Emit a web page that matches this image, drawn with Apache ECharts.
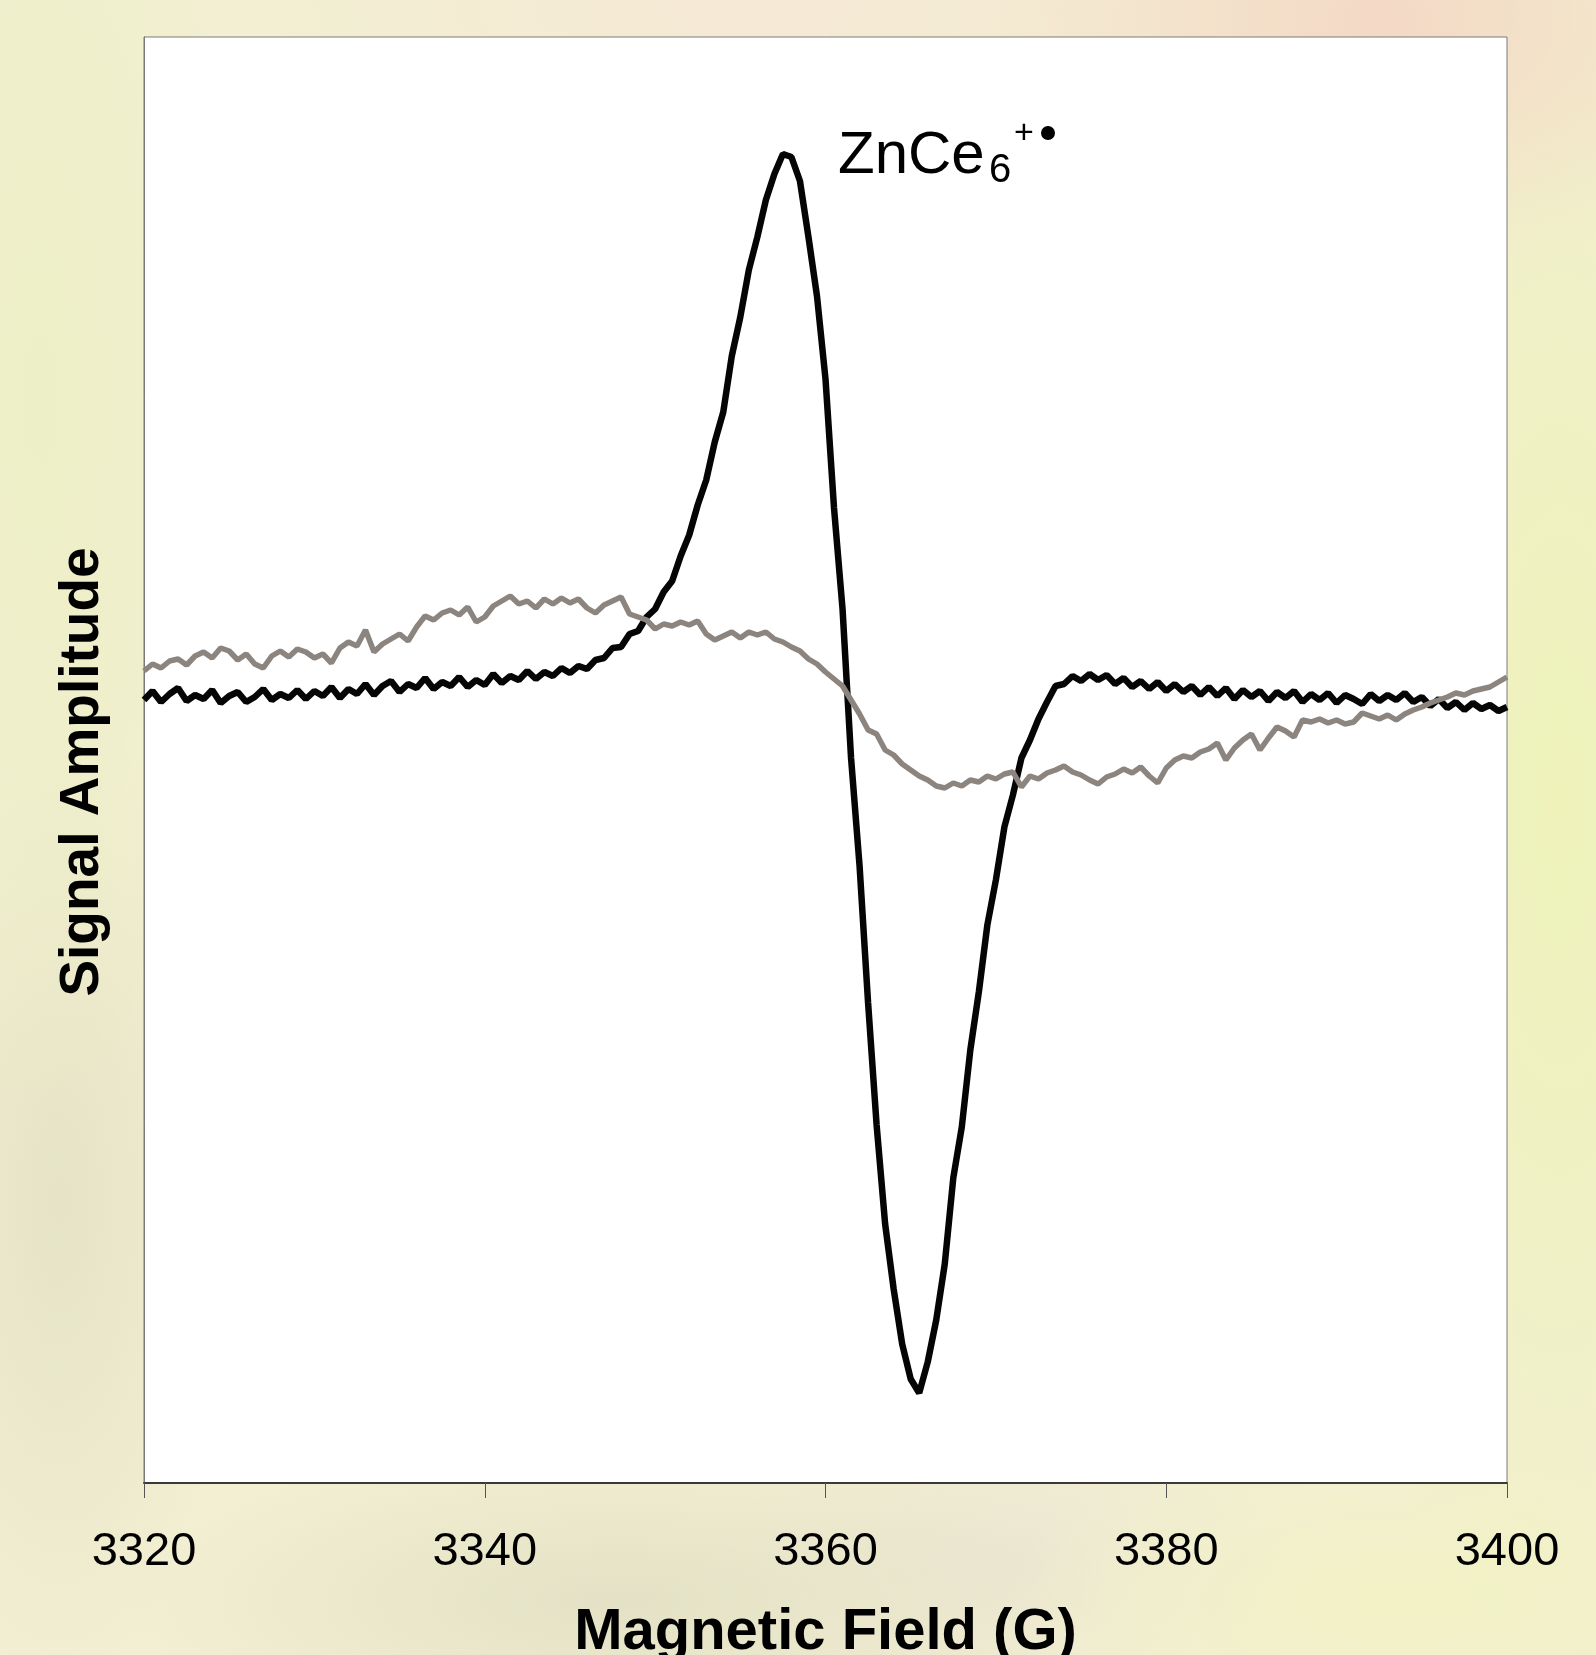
<!DOCTYPE html>
<html>
<head>
<meta charset="utf-8">
<script src="https://cdn.jsdelivr.net/npm/echarts@6/dist/echarts.min.js"></script>
<style>
html, body {
  margin: 0;
  padding: 0;
}
body {
  width: 1596px;
  height: 1655px;
  overflow: hidden;
  background-color: #f2efd2;
  background-image:
    radial-gradient(ellipse 420px 260px at 1380px 20px, rgba(244, 214, 196, 0.9), rgba(244, 214, 196, 0) 100%),
    radial-gradient(ellipse 500px 200px at 760px 0px, rgba(246, 232, 214, 0.9), rgba(246, 232, 214, 0) 100%),
    radial-gradient(ellipse 260px 900px at 1560px 800px, rgba(238, 243, 184, 0.95), rgba(238, 243, 184, 0) 100%),
    radial-gradient(ellipse 200px 700px at 40px 400px, rgba(236, 240, 196, 0.9), rgba(236, 240, 196, 0) 100%),
    radial-gradient(ellipse 180px 500px at 60px 1200px, rgba(228, 226, 196, 0.9), rgba(228, 226, 196, 0) 100%),
    radial-gradient(ellipse 500px 160px at 620px 1600px, rgba(226, 224, 196, 0.9), rgba(226, 224, 196, 0) 100%),
    radial-gradient(ellipse 400px 160px at 1400px 1600px, rgba(242, 242, 196, 0.9), rgba(242, 242, 196, 0) 100%),
    radial-gradient(ellipse 300px 140px at 1000px 1560px, rgba(236, 230, 210, 0.9), rgba(236, 230, 210, 0) 100%);
}
#eprChart {
  width: 1596px;
  height: 1655px;
}
</style>
</head>
<body>
<div id="eprChart"></div>
<script>
// 磁场采样：3320 G 起，每 0.5 G 一个点
const fieldStart = 3320
const fieldStep = 0.5
const xTicks = [3320, 3340, 3360, 3380, 3400]

// ZnCe6 自由基信号（黑线），每行 5 G
const radicalSignal = [
  6.0, 6.9, 5.8, 6.6, 7.2, 5.9, 6.5, 6.1, 7.0, 5.7,
  6.4, 6.8, 5.8, 6.3, 7.1, 6.0, 6.6, 6.2, 7.0, 6.1,
  6.9, 6.4, 7.3, 6.2, 7.1, 6.6, 7.6, 6.5, 7.4, 7.9,
  6.8, 7.6, 7.2, 8.2, 7.1, 7.8, 7.4, 8.3, 7.3, 8.0,
  7.5, 8.6, 7.7, 8.4, 8.0, 8.9, 8.1, 8.8, 8.4, 9.2,
  8.7, 9.4, 9.1, 10.0, 10.2, 11.2, 11.3, 12.6, 12.9, 14.3,
  15.1, 16.8, 17.9, 20.4, 22.5, 25.5, 28.0, 31.8, 34.8, 40.4,
  44.3, 49.0, 52.3, 56.0, 58.6, 60.6, 60.3, 57.9, 52.3, 46.4,
  38.1, 25.2, 15.1, 0.2, -10.6, -24.3, -36.5, -46.4, -52.9, -58.4,
  -61.9, -63.3, -60.2, -56.0, -50.4, -41.8, -36.7, -29.0, -23.2, -16.5,
  -12.0, -6.7, -3.5, 0.2, 2.0, 4.1, 5.8, 7.4, 7.6, 8.4,
  7.9, 8.6, 8.0, 8.5, 7.6, 8.2, 7.3, 7.9, 7.1, 7.8,
  6.9, 7.6, 6.8, 7.4, 6.5, 7.3, 6.4, 7.2, 6.1, 7.0,
  6.3, 6.9, 5.9, 6.8, 6.2, 6.9, 5.8, 6.6, 6.0, 6.7,
  5.7, 6.5, 6.1, 5.6, 6.6, 5.9, 6.5, 6.0, 6.7, 5.8,
  6.3, 5.4, 6.1, 5.2, 5.8, 5.0, 5.7, 5.1, 5.5, 4.9,
  5.3
]

// 对照样品（灰线）
const controlSignal = [
  8.9, 9.6, 9.2, 9.9, 10.1, 9.5, 10.4, 10.8, 10.2, 11.2,
  10.9, 10.0, 10.6, 9.6, 9.2, 10.4, 10.9, 10.3, 11.1, 10.8,
  10.2, 10.6, 9.7, 11.2, 11.8, 11.4, 13.0, 10.8, 11.6, 12.1,
  12.6, 11.9, 13.3, 14.4, 14.0, 14.7, 15.0, 14.5, 15.3, 13.8,
  14.3, 15.4, 15.9, 16.4, 15.6, 15.9, 15.2, 16.1, 15.6, 16.2,
  15.7, 16.1, 15.2, 14.7, 15.5, 15.9, 16.3, 14.6, 14.3, 14.0,
  13.1, 13.6, 13.4, 13.8, 13.5, 13.9, 12.6, 12.0, 12.4, 12.8,
  12.2, 12.8, 12.5, 12.8, 12.1, 11.8, 11.3, 10.9, 10.1, 9.6,
  8.8, 8.1, 7.4, 6.0, 4.6, 3.0, 2.6, 1.0, 0.5, -0.4,
  -1.0, -1.6, -2.0, -2.6, -2.8, -2.3, -2.6, -2.0, -2.2, -1.6,
  -1.9, -1.4, -1.2, -2.7, -1.6, -1.9, -1.3, -1.0, -0.6, -1.2,
  -1.5, -2.0, -2.4, -1.7, -1.4, -0.9, -1.3, -0.7, -1.6, -2.3,
  -0.8, 0.0, 0.4, 0.2, 0.8, 1.1, 1.7, 0.0, 1.2, 2.0,
  2.6, 1.0, 2.2, 3.3, 2.9, 2.3, 4.0, 3.8, 4.1, 3.7,
  4.0, 3.6, 3.8, 4.7, 4.4, 4.1, 4.5, 4.0, 4.6, 5.0,
  5.3, 5.7, 6.0, 6.3, 6.7, 6.5, 6.9, 7.1, 7.3, 7.8,
  8.3
]

function toPairs(values) {
  return values.map((v, i) => [fieldStart + i * fieldStep, v])
}

const chart = echarts.init(document.getElementById('eprChart'), null, { renderer: 'canvas' })

const option = {
  animation: false,
  backgroundColor: 'transparent',
  grid: {
    left: 144,
    right: 89,
    top: 37,
    bottom: 172,
    outerBoundsMode: 'none',
    containLabel: false,
    show: true,
    backgroundColor: '#ffffff',
    borderColor: '#7a7a7a',
    borderWidth: 1
  },
  xAxis: {
    type: 'value',
    min: xTicks[0],
    max: xTicks[xTicks.length - 1],
    interval: 20,
    name: 'Magnetic Field (G)',
    nameLocation: 'middle',
    nameGap: 121,
    nameTextStyle: {
      fontFamily: 'Liberation Sans, Arial, sans-serif',
      fontSize: 58,
      fontWeight: 'bold',
      color: '#000'
    },
    axisLine: {
      onZero: false,
      lineStyle: { color: '#3a3a3a', width: 2 }
    },
    axisTick: {
      inside: false,
      length: 15,
      lineStyle: { color: '#555', width: 1 }
    },
    axisLabel: {
      margin: 46,
      fontFamily: 'Liberation Sans, Arial, sans-serif',
      fontSize: 47,
      color: '#000',
      formatter: (v) => String(v)
    },
    splitLine: { show: false }
  },
  yAxis: {
    type: 'value',
    min: -72.3,
    max: 72.3,
    name: 'Signal Amplitude',
    nameLocation: 'middle',
    nameGap: 34,
    nameTextStyle: {
      fontFamily: 'Liberation Sans, Arial, sans-serif',
      fontSize: 55,
      fontWeight: 'bold',
      color: '#000',
      padding: [0, 24, 0, 0]
    },
    axisLine: {
      show: true,
      onZero: false,
      lineStyle: { color: '#7a7a7a', width: 1 }
    },
    axisTick: { show: false },
    axisLabel: { show: false },
    splitLine: { show: false }
  },
  series: [
    {
      name: 'ZnCe6',
      type: 'line',
      data: toPairs(radicalSignal),
      showSymbol: false,
      lineStyle: { color: '#050505', width: 6.5 }
    },
    {
      name: 'control',
      type: 'line',
      data: toPairs(controlSignal),
      showSymbol: false,
      lineStyle: { color: '#8c857f', width: 5.5 }
    }
  ],
  graphic: [
    {
      type: 'text',
      left: 838,
      top: 126,
      style: {
        text: 'ZnCe',
        fontFamily: 'Liberation Sans, Arial, sans-serif',
        fontSize: 60,
        fill: '#000'
      }
    },
    {
      type: 'text',
      left: 989,
      top: 151,
      style: {
        text: '6',
        fontFamily: 'Liberation Sans, Arial, sans-serif',
        fontSize: 40,
        fill: '#000'
      }
    },
    {
      type: 'text',
      left: 1014,
      top: 117,
      style: {
        text: '+',
        fontFamily: 'Liberation Sans, Arial, sans-serif',
        fontSize: 34,
        fill: '#000'
      }
    },
    {
      type: 'circle',
      shape: { cx: 1048, cy: 133, r: 7 },
      style: { fill: '#000' }
    }
  ]
}

chart.setOption(option)
</script>
</body>
</html>
